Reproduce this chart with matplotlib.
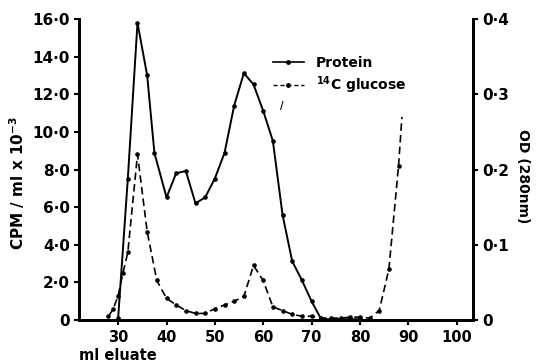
#!/usr/bin/env python3
# Elution profile: protein (OD 280 nm) and 14C glucose (CPM) vs ml eluate

import numpy as np
import matplotlib
matplotlib.use("Agg")
import matplotlib.pyplot as plt
from matplotlib.legend_handler import HandlerLine2D
from matplotlib.lines import Line2D

plt.rcParams['font.family'] = 'DejaVu Sans'
plt.rcParams['font.weight'] = 'bold'
plt.rcParams['mathtext.default'] = 'bf'

# protein, read against the right axis (OD 280 nm)
protein_ml = [30, 32, 34, 36, 37.5, 40, 42, 44, 46, 48, 50, 52, 54, 56, 58,
              60, 62, 64, 66, 68, 70, 72, 74, 76, 78, 80]
protein_od = [0.003, 0.188, 0.395, 0.325, 0.222, 0.163, 0.195, 0.198, 0.155,
              0.163, 0.188, 0.222, 0.285, 0.328, 0.313, 0.278, 0.238, 0.140,
              0.078, 0.053, 0.025, 0.001, 0.001, 0.001, 0.001, 0.001]

# 14C glucose, read against the left axis (CPM/ml x 10^-3)
glucose_ml = [28, 29, 30, 31, 32, 34, 36, 38, 40, 42, 44, 46, 48, 50, 52, 54,
              56, 58, 60, 62, 64, 66, 68, 70, 72, 74, 76, 78, 80, 82, 84, 86, 88]
glucose_cpm = [0.2, 0.6, 1.3, 2.5, 3.6, 8.8, 4.7, 2.1, 1.15, 0.8, 0.5, 0.35,
               0.35, 0.6, 0.8, 1.0, 1.25, 2.9, 2.1, 0.7, 0.5, 0.3, 0.2, 0.2,
               0.1, 0.1, 0.1, 0.15, 0.15, 0.1, 0.5, 2.7, 8.2]
# the dashed trace runs on past the last sample without a marker
glucose_tail_ml = [88, 88.7]
glucose_tail_cpm = [8.2, 10.8]

x_ticks = [30, 40, 50, 60, 70, 80, 90, 100]
left_ticks = [0, 2, 4, 6, 8, 10, 12, 14, 16]
left_labels = ['0', '2·0', '4·0', '6·0', '8·0', '10·0', '12·0', '14·0', '16·0']
right_ticks = [0, 0.1, 0.2, 0.3, 0.4]
right_labels = ['0', '0·1', '0·2', '0·3', '0·4']


class EndMarkerHandler(HandlerLine2D):
    # legend sample with the dot at the right end of the line
    def get_xdata(self, legend, xdescent, ydescent, width, height, fontsize):
        xdata = np.linspace(-xdescent, -xdescent + width, 2)
        return xdata, [-xdescent + width]


def main():
    fig = plt.figure(figsize=(5.36, 3.62), dpi=100)
    ax = fig.add_axes([79 / 536, 1 - 320 / 362, 394 / 536, 301 / 362])
    ax2 = ax.twinx()

    dash = (0, (4.5, 2.5))
    ax.plot(glucose_ml, glucose_cpm, color='black', lw=1.2, linestyle=dash,
            marker='o', markersize=2.3)
    ax.plot(glucose_tail_ml, glucose_tail_cpm, color='black', lw=1.2, linestyle=dash)
    ax2.plot(protein_ml, protein_od, color='black', lw=1.4, marker='o', markersize=2.3)

    # stray pen mark in the original figure
    ax.text(63.8, 11.4, '/', fontsize=7, ha='center', va='center')

    ax.set_xlim(21.9, 103.4)
    ax.set_ylim(0, 16)
    ax2.set_ylim(0, 0.4)

    ax.set_xticks(x_ticks)
    ax.set_xticklabels([str(t) for t in x_ticks])
    ax.set_yticks(left_ticks)
    ax.set_yticklabels(left_labels)
    ax2.set_yticks(right_ticks)
    ax2.set_yticklabels(right_labels)

    for a in (ax, ax2):
        a.spines['top'].set_visible(False)
        for s in ('left', 'right', 'bottom'):
            a.spines[s].set_linewidth(2)
        a.tick_params(direction='out', length=3.5, width=1.5, labelsize=11, pad=3)
    ax.tick_params(axis='x', pad=4, labelsize=10.5)

    fig.text(17 / 536, 1 - 183 / 362, 'CPM / ml x 10$^{-3}$', rotation=90,
             ha='center', va='center', fontsize=11)
    fig.text(523 / 536, 1 - 176 / 362, 'OD (280nm)', rotation=-90,
             ha='center', va='center', fontsize=10)
    fig.text(79 / 536, 1 - 356 / 362, 'ml eluate', ha='left', va='center', fontsize=10.5)

    h_protein = Line2D([], [], color='black', lw=1.2, marker='o', markersize=2.5)
    h_glucose = Line2D([], [], color='black', lw=1.0, linestyle=(0, (3, 2)),
                       marker='o', markersize=2.5)
    ax.legend([h_protein, h_glucose], ['Protein', '$^{14}$C glucose'],
              loc='center left', bbox_to_anchor=(273 / 536, 1 - 76 / 362),
              bbox_transform=fig.transFigure, frameon=False, fontsize=10,
              numpoints=1, handlelength=2.2, handletextpad=0.9,
              labelspacing=0.3, borderpad=0, borderaxespad=0,
              handler_map={Line2D: EndMarkerHandler()})

    fig.savefig('out.png', dpi=100, facecolor='white')
    plt.close(fig)


if __name__ == "__main__":
    main()
